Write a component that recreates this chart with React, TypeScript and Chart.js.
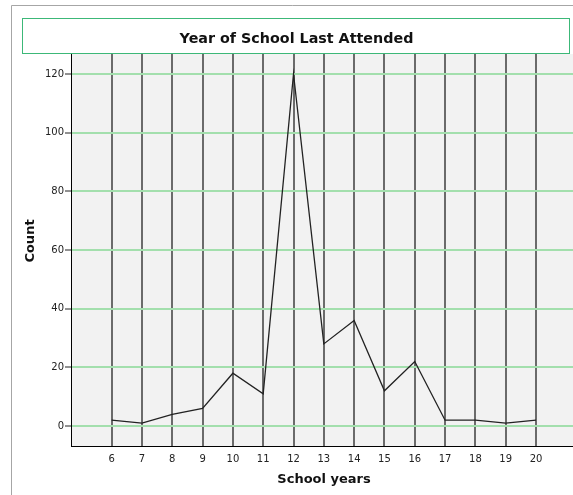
import React, { useEffect, useRef } from "react";
import { Chart, registerables } from "chart.js";

Chart.register(...registerables);

const schoolYears = [6, 7, 8, 9, 10, 11, 12, 13, 14, 15, 16, 17, 18, 19, 20];
const counts = [2, 1, 4, 6, 18, 11, 120, 28, 36, 12, 22, 2, 2, 1, 2];
const yTicks = [0, 20, 40, 60, 80, 100, 120];
const chartTitle = "Year of School Last Attended";
const xTitle = "School years";
const yTitle = "Count";

const FONT = "'DejaVu Sans', Verdana, sans-serif";

const decorPlugin = {
  id: "decor",
  beforeDraw(chart: any) {
    const { ctx, chartArea } = chart;
    ctx.save();
    ctx.fillStyle = "#ffffff";
    ctx.fillRect(0, 0, chart.width, chart.height);
    ctx.fillStyle = "#f2f2f2";
    ctx.fillRect(chartArea.left, chartArea.top, chartArea.right - chartArea.left, chartArea.bottom - chartArea.top);
    ctx.restore();
  },
  afterDraw(chart: any) {
    const { ctx } = chart;
    ctx.save();
    // outer frame
    ctx.strokeStyle = "#a6a6a6";
    ctx.lineWidth = 1;
    ctx.beginPath();
    ctx.moveTo(11.5, chart.height);
    ctx.lineTo(11.5, 5.5);
    ctx.lineTo(chart.width, 5.5);
    ctx.stroke();
    // title box
    ctx.fillStyle = "#ffffff";
    ctx.fillRect(22, 18, 548, 36);
    ctx.strokeStyle = "#3cb878";
    ctx.strokeRect(22.5, 18.5, 547, 35);
    ctx.fillStyle = "#111111";
    ctx.font = `bold 14.3px ${FONT}`;
    ctx.textAlign = "center";
    ctx.textBaseline = "middle";
    ctx.fillText(chartTitle, 296.5, 39);
    // axis titles
    ctx.font = `bold 13px ${FONT}`;
    ctx.fillText(xTitle, 324, 480);
    ctx.translate(31, 241);
    ctx.rotate(-Math.PI / 2);
    ctx.fillText(yTitle, 0, 0);
    ctx.restore();
  },
};

export default function App() {
  const ref = useRef<HTMLCanvasElement>(null);
  useEffect(() => {
    const canvas = ref.current!;
    const chart = new Chart(canvas, {
      type: "line",
      data: {
        datasets: [
          {
            data: schoolYears.map((x, i) => ({ x, y: counts[i] })),
            borderColor: "#222222",
            borderWidth: 1.3,
            pointRadius: 0,
            tension: 0,
            fill: false,
          },
        ],
      },
      options: {
        animation: false,
        responsive: false,
        maintainAspectRatio: false,
        layout: { padding: { top: 54, left: 0, right: 0, bottom: 0 } },
        plugins: { legend: { display: false }, tooltip: { enabled: false }, title: { display: false } },
        scales: {
          x: {
            type: "linear",
            min: 4.66,
            max: 21.22,
            afterBuildTicks: (scale: any) => {
              scale.ticks = schoolYears.map((v) => ({ value: v }));
            },
            afterFit: (scale: any) => {
              scale.height = 49;
            },
            grid: { color: "#6b6b6b", lineWidth: 2, drawTicks: false },
            border: { color: "#000000", width: 1 },
            ticks: {
              color: "#222222",
              font: { family: FONT, size: 10 },
              padding: 7,
              maxRotation: 0,
              autoSkip: false,
            },
          },
          y: {
            type: "linear",
            min: -6.8,
            max: 126.8,
            afterBuildTicks: (scale: any) => {
              scale.ticks = yTicks.map((v) => ({ value: v }));
            },
            afterFit: (scale: any) => {
              scale.width = 71;
            },
            grid: { color: "#a3dfad", lineWidth: 2, tickColor: "#222222", tickLength: 6, tickWidth: 1 },
            border: { color: "#000000", width: 1 },
            ticks: {
              color: "#222222",
              font: { family: FONT, size: 10 },
              padding: 1,
            },
          },
        },
      },
      plugins: [decorPlugin],
    });
    return () => chart.destroy();
  }, []);
  return (
    <canvas
      ref={ref}
      width={573}
      height={495}
      style={{ position: "fixed", left: 0, top: 0, width: 573, height: 495 }}
    />
  );
}
